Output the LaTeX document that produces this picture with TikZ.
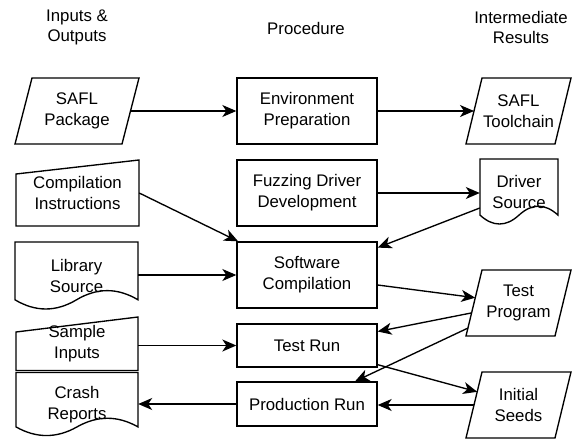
\documentclass[tikz,border=0pt]{standalone}
\usepackage{fontspec}
\setmainfont{Liberation Sans}
\usetikzlibrary{arrows.meta,calc}
\tikzset{
  shp/.style={draw=black, line width=1.35pt, line join=miter},
  txt/.style={inner sep=0pt, align=center, font=\fontsize{16.8}{20.8}\selectfont},
  ar/.style={draw=black, line width=1.35pt, -{Stealth[length=14pt,width=12pt,inset=4pt]}},
}
% rectangle node: name cx cy w h text
\newcommand\boxnode[6]{%
  \node[txt, shp, minimum width=#4pt, minimum height=#5pt] (#1) at (#2,#3) {#6};}
% parallelogram: name cx cy w h skew text
\newcommand\paranode[7]{%
  \node[txt, minimum width=#4pt, minimum height=#5pt] (#1) at (#2,#3) {#7};
  \coordinate (#1-tl) at ({#2-#4/2+#6},{#3-#5/2});
  \coordinate (#1-bl) at ({#2-#4/2},{#3+#5/2});
  \coordinate (#1-tr) at ({#2+#4/2},{#3-#5/2});
  \coordinate (#1-br) at ({#2+#4/2-#6},{#3+#5/2});
  \draw[shp] (#1-tl) -- (#1-tr) -- (#1-br) -- (#1-bl) -- cycle;}
% document shape: name cx cy w h text
\newcommand\docnode[6]{%
  \node[txt, minimum width=#4pt, minimum height=#5pt] (#1) at (#2,#3) {#6};
  \draw[shp] ({#2-#4/2},{#3-#5/2}) -- ({#2+#4/2},{#3-#5/2}) -- ({#2+#4/2},{#3-#5/2+0.85*#5})
    .. controls ({#2+#4/2-#4/6},{#3-#5/2+0.67*#5}) and ({#2+#4/2-#4/3},{#3-#5/2+0.67*#5}) .. ({#2},{#3-#5/2+0.85*#5})
    .. controls ({#2-#4/6},{#3-#5/2+1.03*#5}) and ({#2-#4/3},{#3-#5/2+1.03*#5}) .. ({#2-#4/2},{#3-#5/2+0.85*#5}) -- cycle;}
% manual input: name cx cy w h slant text
\newcommand\maninode[7]{%
  \node[txt, minimum width=#4pt, minimum height=#5pt] (#1) at (#2,#3) {#7};
  \draw[shp] ({#2-#4/2},{#3-#5/2+#6}) -- ({#2+#4/2},{#3-#5/2}) -- ({#2+#4/2},{#3+#5/2}) -- ({#2-#4/2},{#3+#5/2}) -- cycle;}
\begin{document}
\begin{tikzpicture}[x=1pt,y=-1pt]
\fill[white] (0,0) rectangle (573,439);
\useasboundingbox (0,0) rectangle (573,439);
% headers
\node[txt] (h1) at (77,27.5) {Inputs \&\\Outputs};
\node[txt] (h2) at (306,28) {Procedure};
\node[txt] (h3) at (521,27.5) {Intermediate\\Results};
% left column
\paranode{sp}{77}{111}{124}{66}{17}{SAFL\\Package}
\maninode{ci}{77.5}{193}{123}{66}{14}{Compilation\\Instructions}
\docnode{ls}{76.5}{276}{123}{68}{Library\\Source}
\maninode{si}{77}{343.75}{122}{53.5}{15}{Sample\\Inputs}
\docnode{cr}{77}{404.5}{122}{64}{Crash\\Reports}
% middle column
\boxnode{ep}{307}{111}{140}{66}{Environment\\Preparation}
\boxnode{fd}{307}{193}{140}{66}{Fuzzing Driver\\Development}
\boxnode{sc}{307}{275}{140}{66}{Software\\Compilation}
\boxnode{tr}{307}{345.5}{140}{43}{Test Run}
\boxnode{pr}{307}{404}{140}{44}{Production Run}
% right column
\paranode{st}{518.5}{111}{105}{66}{16}{SAFL\\Toolchain}
\docnode{ds}{519}{192}{78}{66}{Driver\\Source}
\paranode{tp}{518.5}{303}{105}{66}{16}{Test\\Program}
\paranode{is}{518.5}{405}{105}{66}{16}{Initial\\Seeds}
% connector end points on slanted edges
\coordinate (sp-rm) at ($(sp-tr)!0.5!(sp-br)$);
\coordinate (st-lm) at ($(st-tl)!0.5!(st-bl)$);
\coordinate (tp-in) at ($(tp-tl)!0.42!(tp-bl)$);
\coordinate (tp-o1) at ($(tp-tl)!0.65!(tp-bl)$);
\coordinate (tp-o2) at ($(tp-tl)!0.88!(tp-bl)$);
\coordinate (is-in) at ($(is-tl)!0.3!(is-bl)$);
\coordinate (is-lm) at ($(is-tl)!0.5!(is-bl)$);
\coordinate (ds-out) at ($(ds.west)+(0,16)$);
\coordinate (sc-out) at ($(sc.east)+(0,10)$);
\coordinate (tr-out) at ($(tr.south east)+(0,-3)$);
% connectors
\draw[ar] (sp-rm) -- (ep);
\draw[ar] (ep) -- (st-lm);
\draw[ar] (ci.east) -- (sc);
\draw[ar] (fd.east) -- (fd.east -| ds.west);
\draw[ar] (ds-out) -- (sc);
\draw[ar] (ls.east |- sc.west) -- (sc.west);
\draw[ar] (sc-out) -- (tp-in);
\draw[ar] (tp-o1) -- (tr);
\draw[ar] (tp-o2) -- (pr);
\draw[ar] (tr-out) -- (is-in);
\draw[ar] (is-lm) -- (is-lm -| pr.east);
\draw[ar] (pr.west) -- (pr.west -| cr.east);
\draw[ar] (tr.west -| si.east) -- (tr.west);
\end{tikzpicture}
\end{document}
